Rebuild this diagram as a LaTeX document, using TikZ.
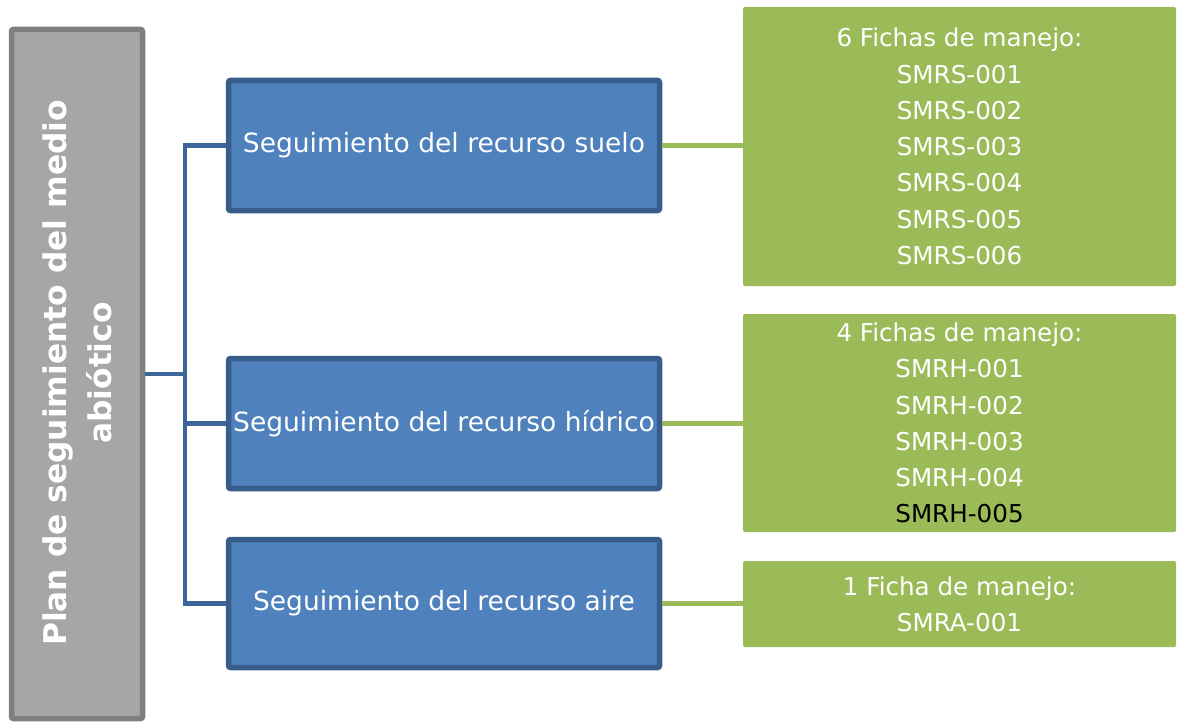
\documentclass[tikz,border=0pt]{standalone}
\usepackage{fontspec}
\setmainfont{DejaVu Sans}
\definecolor{grayfill}{HTML}{A6A6A6}
\definecolor{grayline}{HTML}{7F7F7F}
\definecolor{bluefill}{HTML}{4F81BD}
\definecolor{blueline}{HTML}{385D8A}
\definecolor{connblue}{HTML}{3E6599}
\definecolor{greenfill}{HTML}{9BBB59}
\begin{document}
\begin{tikzpicture}[x=1pt,y=-1pt,
  graybox/.style={draw=grayline,fill=grayfill,line width=5.5pt,rounded corners=2pt,inner sep=0pt,
    minimum width=131pt,minimum height=689pt},
  bluebox/.style={draw=blueline,fill=bluefill,line width=5.5pt,rounded corners=2pt,inner sep=0pt,
    minimum width=431pt,text=white,font=\fontsize{26.5}{30}\selectfont},
  greenbox/.style={fill=greenfill,rounded corners=2pt,inner sep=0pt,minimum width=433pt,
    text=white,align=center,font=\fontsize{24.6}{36.3}\selectfont},
  conn/.style={draw=connblue,line width=4.5pt},
  gconn/.style={draw=greenfill,line width=4.5pt}]
\useasboundingbox (0,0) rectangle (1177,722);
\node[graybox] (gray) at (77,374) {};
\node[rotate=90,text=white,align=center,font=\bfseries\fontsize{31.3}{45}\selectfont] (graytext) at (77,373)
  {Plan de seguimiento del medio\\abiótico};
\node[bluebox,minimum height=130pt] (b1) at (444,145.5) {Seguimiento del recurso suelo};
\node[bluebox,minimum height=130pt] (b2) at (444,423.5) {Seguimiento del recurso hídrico};
\node[bluebox,minimum height=128pt] (b3) at (444,603.5) {Seguimiento del recurso aire};
\node[greenbox,minimum height=279pt] (g1) at (959.5,146.5)
  {6 Fichas de manejo:\\SMRS-001\\SMRS-002\\SMRS-003\\SMRS-004\\SMRS-005\\SMRS-006};
\node[greenbox,minimum height=218pt] (g2) at (959.5,423)
  {4 Fichas de manejo:\\SMRH-001\\SMRH-002\\SMRH-003\\SMRH-004\\\textcolor{black}{SMRH-005}};
\node[greenbox,minimum height=86pt] (g3) at (959.5,604)
  {1 Ficha de manejo:\\SMRA-001};
\coordinate (j) at (185,374);
\draw[conn] (gray.east) -- (j);
\draw[conn] (b1.west) -| (j) |- (b3.west);
\draw[conn] (j) |- (b2.west);
\draw[gconn] (b1.east) -- (b1.east -| g1.west);
\draw[gconn] (b2.east) -- (b2.east -| g2.west);
\draw[gconn] (b3.east) -- (b3.east -| g3.west);
\end{tikzpicture}
\end{document}
